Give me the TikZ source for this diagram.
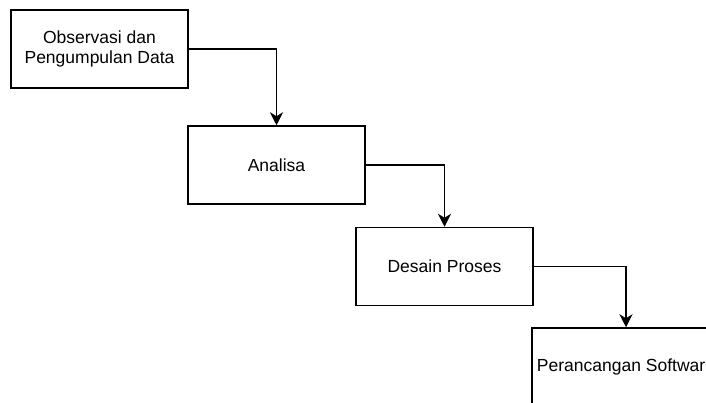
\documentclass[tikz,border=0pt]{standalone}
\usepackage{fontspec}
\setmainfont{Liberation Sans}
\usepackage{tikz}
\usetikzlibrary{positioning, arrows.meta}

\begin{document}
\begin{tikzpicture}[
  x=1pt, y=-1pt,
  every node/.style={font=\fontsize{17.5}{20}\selectfont},
  stepbox/.style={
    draw, line width=1.5pt, fill=white,
    minimum width=177pt, minimum height=78pt,
    align=center, inner sep=0pt
  },
  arrow/.style={-{Stealth[length=13pt,width=13pt,inset=4pt]}, line width=1.5pt},
]

% page
\clip (0,0) rectangle (706,402);
\fill[white] (0,0) rectangle (706,402);

% Steps
\node[stepbox] (obs) at (99.5,49) {Observasi dan\\Pengumpulan Data};
\node[stepbox] (ana) at (276.5,165) {Analisa};
\node[stepbox] (des) at (444.5,266.5) {Desain Proses};
\node[stepbox, minimum width=188pt] (per) at (626,367) {Perancangan Software};

% Arrows
\draw[arrow] (obs.east) -| (ana.north);
\draw[arrow] (ana.east) -| (des.north);
\draw[arrow] (des.east) -| (per.north);

\end{tikzpicture}
\end{document}
